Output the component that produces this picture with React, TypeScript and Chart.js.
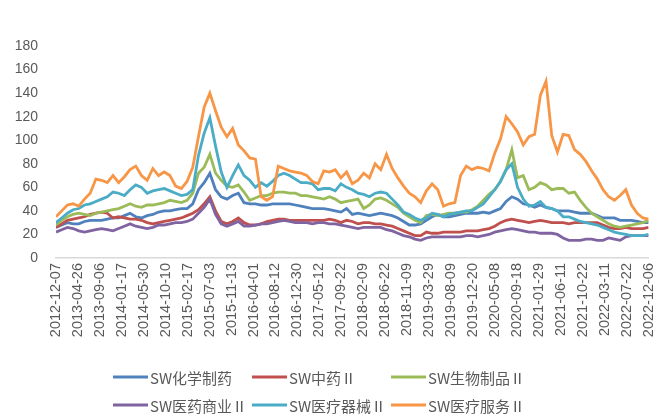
import { useEffect, useRef } from "react";
import { Chart, registerables } from "chart.js";

Chart.register(...registerables);

const FONT = "'Liberation Sans', 'Noto Sans CJK SC', sans-serif";
const CJK_FONT = "'Noto Sans CJK SC', 'Liberation Sans', sans-serif";
const TEXT_COLOR = "#595959";

// Date labels shown on the x axis
const tickLabels = [
  "2012-12-07", "2013-04-26", "2013-09-06", "2014-01-17", "2014-05-30", "2014-10-10",
  "2015-02-17", "2015-07-03", "2015-11-13", "2016-04-01", "2016-08-12", "2016-12-30",
  "2017-05-12", "2017-09-22", "2018-02-09", "2018-06-22", "2018-11-09", "2019-03-29",
  "2019-08-09", "2019-12-20", "2020-05-08", "2020-09-18", "2021-01-29", "2021-06-11",
  "2021-10-22", "2022-03-11", "2022-07-22", "2022-12-06",
];

const seriesNames = ["SW化学制药", "SW中药Ⅱ", "SW生物制品Ⅱ", "SW医药商业Ⅱ", "SW医疗器械Ⅱ", "SW医疗服务Ⅱ"];
const seriesColors = ["#4F81BD", "#C0504D", "#9BBB59", "#8064A2", "#4BACC6", "#F79646"];

const chemPharma = [
  26, 28, 30, 29, 29, 31, 32, 32, 32, 33,
  34, 34, 36, 38, 35, 34, 36, 37, 39, 40,
  40, 41, 42, 42, 46, 58, 64, 72, 58, 52,
  50, 53, 55, 47, 46, 46, 45, 45, 46, 46,
  46, 46, 45, 44, 43, 42, 42, 42, 41, 40,
  39, 42, 37, 38, 37, 36, 37, 38, 37, 36,
  34, 31, 28, 28, 29, 32, 35, 37, 35, 35,
  36, 37, 38, 38, 38, 39, 38, 40, 42, 48,
  52, 50, 46, 45, 43, 45, 43, 42, 40, 40,
  40, 39, 38, 38, 38, 36, 34, 34, 34, 32,
  32, 32, 31, 30, 30,
];
const tcm = [
  26, 29, 32, 33, 34, 35, 37, 38, 39, 38,
  34, 35, 34, 33, 33, 32, 30, 29, 30, 31,
  32, 33, 34, 36, 38, 41, 46, 52, 40, 31,
  29, 31, 34, 30, 28, 28, 29, 31, 32, 33,
  33, 32, 32, 32, 32, 32, 32, 32, 33, 32,
  30, 32, 31, 29, 30, 30, 29, 29, 28, 27,
  25, 23, 21, 19, 19, 22, 21, 21, 22, 22,
  22, 22, 23, 23, 23, 24, 25, 27, 30, 32,
  33, 32, 31, 30, 31, 32, 31, 30, 30, 30,
  29, 30, 30, 30, 30, 30, 28, 26, 25, 25,
  26, 25, 25, 25, 26,
];
const biologics = [
  28, 32, 35, 37, 38, 37, 36, 38, 39, 40,
  41, 42, 44, 46, 44, 43, 45, 45, 46, 47,
  49, 48, 47, 49, 55, 72, 77, 88, 72, 66,
  61, 60, 62, 56, 49, 51, 53, 53, 55, 56,
  56, 55, 55, 53, 53, 52, 51, 50, 52, 50,
  47, 48, 49, 50, 42, 45, 50, 51, 49, 46,
  43, 38, 35, 32, 30, 36, 37, 36, 37, 38,
  38, 39, 39, 41, 44, 49, 54, 58, 65, 75,
  92, 68, 70, 58, 60, 64, 62, 58, 59, 59,
  55, 56, 49, 43, 38, 35, 32, 29, 27, 26,
  27, 28, 29, 30, 32,
];
const pharmaCommerce = [
  22, 24, 26, 25, 23, 22, 23, 24, 25, 24,
  23, 25, 27, 29, 27, 26, 25, 26, 28, 28,
  29, 30, 30, 31, 33, 38, 43, 50, 37, 29,
  27, 29, 31, 27, 27, 28, 29, 29, 30, 31,
  32, 31, 30, 30, 30, 29, 30, 30, 29, 29,
  28, 27, 26, 25, 26, 26, 26, 26, 24, 23,
  21, 19, 18, 16, 15, 17, 18, 18, 18, 18,
  18, 18, 19, 19, 18, 19, 20, 22, 23, 24,
  25, 24, 23, 22, 22, 21, 21, 21, 20, 17,
  15, 15, 15, 16, 16, 15, 15, 17, 16, 15,
  18, 19, 19, 19, 19,
];
const medDevices = [
  30, 34, 38, 41, 42, 45, 46, 48, 50, 52,
  56, 55, 53, 58, 62, 60, 55, 57, 58, 59,
  57, 55, 53, 54, 58, 87, 106, 119, 95, 73,
  60, 70, 79, 70, 66, 60, 64, 61, 65, 70,
  72, 70, 67, 64, 64, 63, 58, 59, 59, 57,
  63, 60, 58, 55, 54, 52, 55, 56, 55, 50,
  45, 39, 37, 34, 32, 34, 38, 37, 35, 37,
  38, 39, 40, 40, 43, 46, 52, 58, 65, 75,
  80, 60, 50, 44, 45, 48, 43, 42, 40, 35,
  35, 33, 31, 30, 29, 28, 26, 24, 22, 21,
  20, 19, 19, 19, 20,
];
const medServices = [
  35, 40, 45, 46, 44, 50, 55, 67, 66, 64,
  70, 64, 69, 75, 78, 70, 66, 76, 70, 73,
  70, 61, 59, 65, 77, 103, 128, 140, 125, 111,
  103, 110, 96, 91, 85, 84, 52, 49, 52, 78,
  76, 74, 73, 72, 70, 65, 63, 74, 73, 75,
  68, 73, 63, 66, 72, 68, 80, 75, 88, 76,
  68, 61, 55, 52, 47, 57, 63, 58, 44, 46,
  47, 70, 78, 75, 77, 76, 74, 89, 101, 120,
  114, 107, 96, 103, 105, 138, 150, 104, 90, 105,
  104, 92, 88, 82, 74, 67, 58, 52, 49, 53,
  58, 45, 38, 34, 33,
];

const seriesValues = [chemPharma, tcm, biologics, pharmaCommerce, medDevices, medServices];

const yTicks = { min: 0, max: 180, step: 20 };

export default function App() {
  const ref = useRef<HTMLCanvasElement>(null);

  useEffect(() => {
    const canvas = ref.current;
    if (!canvas) return;

    const legendPlugin = {
      id: "excelLegend",
      afterDraw(chart: any) {
        const { ctx, chartArea } = chart;
        ctx.save();
        ctx.font = `15px ${CJK_FONT}`;
        ctx.textBaseline = "middle";
        ctx.textAlign = "left";
        chart.data.datasets.forEach((ds: any, i: number) => {
          const col = i % 3;
          const row = Math.floor(i / 3);
          const x0 = chartArea.left + 57 + col * 139;
          const y = chart.height - 40 + row * 28;
          ctx.strokeStyle = ds.borderColor;
          ctx.lineWidth = 3;
          ctx.beginPath();
          ctx.moveTo(x0, y);
          ctx.lineTo(x0 + 35, y);
          ctx.stroke();
          ctx.fillStyle = TEXT_COLOR;
          ctx.fillText(ds.label, x0 + 37, y + 1);
        });
        ctx.restore();
      },
    };

    const lastLabel = tickLabels.length - 1;

    const datasets = seriesNames.map((name, i) => {
      const vals = seriesValues[i];
      const n = vals.length - 1;
      return {
        label: name,
        // sample index spread evenly over the labelled date span
        data: vals.map((v, k) => ({ x: (k * lastLabel) / n, y: v })),
        borderColor: seriesColors[i],
        backgroundColor: seriesColors[i],
        borderWidth: 2.8,
        pointRadius: 0,
        tension: 0,
        fill: false,
        order: seriesNames.length - i,
      };
    });

    const chart = new Chart(canvas, {
      type: "line",
      data: { datasets },
      options: {
        responsive: false,
        animation: false,
        devicePixelRatio: 1,
        layout: { padding: { left: 0, right: 19, top: 46, bottom: 59 } },
        plugins: {
          legend: { display: false },
          tooltip: { enabled: false },
        },
        scales: {
          x: {
            type: "linear",
            min: 0,
            max: lastLabel,
            grid: { display: false, drawTicks: false },
            border: { display: true, color: "#D9D9D9", width: 1.5 },
            ticks: {
              stepSize: 1,
              autoSkip: false,
              maxRotation: 90,
              minRotation: 90,
              padding: 5,
              color: TEXT_COLOR,
              font: { size: 14.5, family: FONT },
              callback: (v: any) => tickLabels[Math.round(Number(v))] ?? "",
            },
            afterFit: (s: any) => {
              s.height = 100;
            },
          },
          y: {
            min: yTicks.min,
            max: yTicks.max,
            grid: { display: false, drawTicks: false },
            border: { display: false },
            ticks: {
              stepSize: yTicks.step,
              padding: 18,
              color: TEXT_COLOR,
              font: { size: 14, family: FONT },
            },
            afterFit: (s: any) => {
              s.width = 56;
            },
          },
        },
      },
      plugins: [legendPlugin],
    } as any);

    return () => chart.destroy();
  }, []);

  return (
    <div style={{ position: "fixed", left: 0, top: 0, width: 671, height: 417, background: "#fff" }}>
      <canvas ref={ref} width={671} height={417} style={{ display: "block", width: 671, height: 417 }} />
    </div>
  );
}
